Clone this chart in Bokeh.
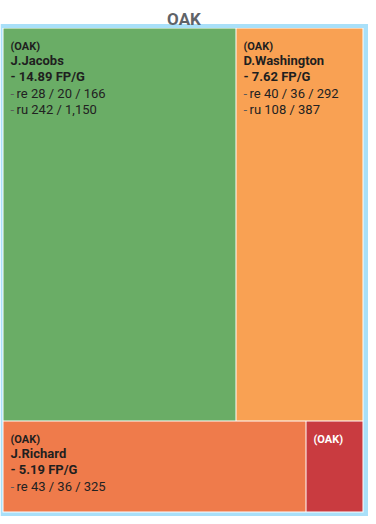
from bokeh.plotting import figure
from bokeh.models import Range1d, ColumnDataSource
from bokeh.embed import file_html
from bokeh.resources import INLINE
from bokeh.core.properties import value

# ---------------- data ----------------
team = "OAK"
players = ["J.Jacobs", "D.Washington", "J.Richard", ""]
fp_per_game = [14.89, 7.62, 5.19, None]
re_targets = [28, 40, 43, None]
re_receptions = [20, 36, 36, None]
re_yards = [166, 292, 325, None]
ru_attempts = [242, 108, None, None]
ru_yards = [1150, 387, None, None]
sizes = [52.5, 28.7, 15.8, 3.0]   # tile areas
tile_colors = ["#6aad66", "#f9a153", "#ef7b4b", "#c93b40"]
label_colors = ["#1f1f1f", "#1f1f1f", "#1f1f1f", "#ffffff"]

W, H = 368, 516
FONT = "Roboto"

p = figure(width=W, height=H, output_backend="svg", toolbar_location=None,
           x_range=Range1d(0, W), y_range=Range1d(H, 0), min_border=0)
p.axis.visible = False
p.grid.visible = False
p.outline_line_color = None
p.background_fill_color = "white"
p.border_fill_color = "white"

# frame
p.quad(left=[0], right=[W], top=[23.5], bottom=[H], fill_color="#a9e0f9", line_color=None)
p.quad(left=[2], right=[363], top=[27.5], bottom=[512], fill_color="white", line_color=None)

# inner area for tiles
X0, X1, Y0, Y1 = 3, 363, 28.5, 512
total = sum(sizes)
rows = [list(range(i, min(i + 2, len(sizes)))) for i in range(0, len(sizes), 2)]
lefts, rights, tops, bottoms = [], [], [], []
y = Y0
for r in rows:
    rsum = sum(sizes[i] for i in r)
    h = (Y1 - Y0) * rsum / total
    x = X0
    for i in r:
        w = (X1 - X0) * sizes[i] / rsum
        lefts.append(round(x)); rights.append(round(x + w) - 1)
        tops.append(round(y)); bottoms.append(round(y + h) - 1)
        x += w
    y += h

src = ColumnDataSource(dict(left=lefts, right=rights, top=tops, bottom=bottoms, color=tile_colors))
p.quad(left="left", right="right", top="top", bottom="bottom", fill_color="color",
       line_color=None, source=src)

# title
p.text(x=[183.5], y=[18.5], text=[team], text_font=value(FONT), text_font_size="17px",
       text_font_style="bold", text_color="#5f6368", text_align="center",
       text_baseline="alphabetic")

# labels
for i in range(len(sizes)):
    lx = lefts[i] + 7
    ty = tops[i]
    col = label_colors[i]
    p.text(x=[lx], y=[ty + 17.5], text=[f"({team})"], text_font=value(FONT),
           text_font_size="11px", text_font_style="bold", text_color=col,
           text_baseline="alphabetic")
    if players[i]:
        p.text(x=[lx], y=[ty + 31.5], text=[players[i]], text_font=value(FONT),
               text_font_size="13px", text_font_style="bold", text_color=col,
               text_baseline="alphabetic")
    if fp_per_game[i] is not None:
        p.text(x=[lx], y=[ty + 48], text=[f"- {fp_per_game[i]:.2f} FP/G"], text_font=value(FONT),
               text_font_size="13px", text_font_style="bold", text_color=col,
               text_baseline="alphabetic")
    lines = []
    if re_targets[i] is not None:
        lines.append(f"re {re_targets[i]} / {re_receptions[i]} / {re_yards[i]:,}")
    if ru_attempts[i] is not None:
        lines.append(f"ru {ru_attempts[i]} / {ru_yards[i]:,}")
    for k, s in enumerate(lines):
        yy = ty + 64.5 + 16.3 * k
        p.text(x=[lx], y=[yy], text=["-"], text_font=value(FONT), text_font_size="13px",
               text_color="#5a5a5a", text_baseline="alphabetic")
        p.text(x=[lx + 6], y=[yy], text=[s], text_font=value(FONT), text_font_size="13px",
               text_color="#222222", text_baseline="alphabetic")

open("out.html", "w").write(file_html(p, INLINE))
